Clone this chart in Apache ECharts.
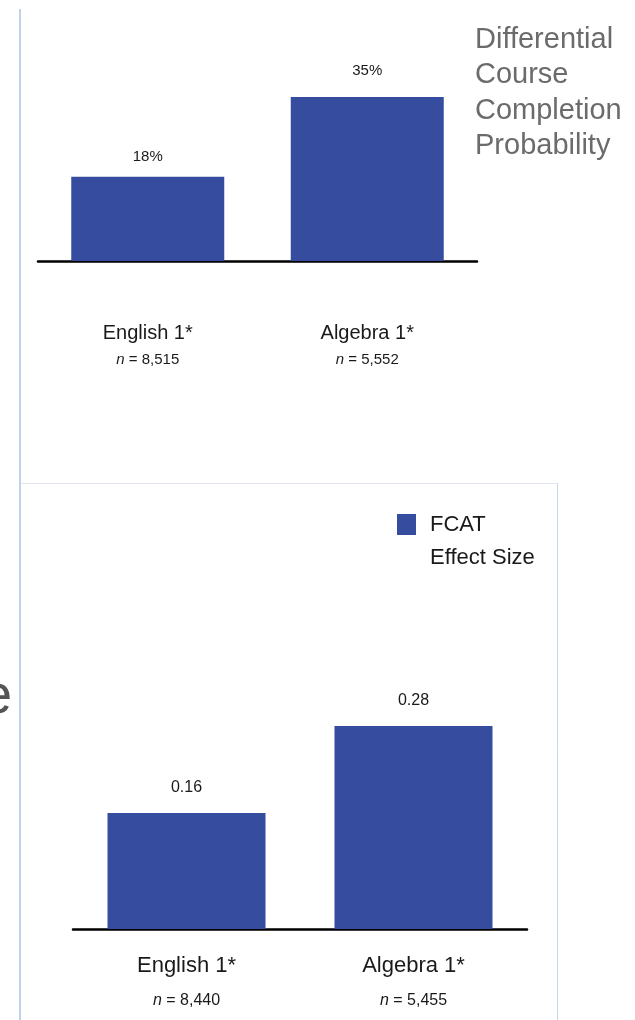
<!DOCTYPE html>
<html>
<head>
<meta charset="utf-8">
<script src="https://cdn.jsdelivr.net/npm/echarts@6/dist/echarts.min.js"></script>
<style>
  html, body { margin: 0; padding: 0; background: #fff; }
  #chart { width: 635px; height: 1020px; }
</style>
</head>
<body>
<div id="chart"></div>
<script>
const categories = ['English 1*', 'Algebra 1*']
const completionValues = [18, 35]
const completionN = ['8,515', '5,552']
const effectValues = [0.16, 0.28]
const effectN = ['8,440', '5,455']
const titleText = 'Differential\nCourse\nCompletion\nProbability'
const legendName = 'FCAT Effect Size'

const narrow = '"Liberation Sans Narrow", "Liberation Sans", Arial, sans-serif'
const barColor = '#364c9f'
// the two % labels sit at slightly different gaps in the original
const completionLabelGap = [12, 19]

const chart = echarts.init(document.getElementById('chart'))

const option = {
  animation: false,
  backgroundColor: '#fff',
  title: {
    text: titleText,
    left: 475,
    top: 22,
    padding: 0,
    textStyle: {
      fontFamily: '"Liberation Sans", Arial, sans-serif',
      fontSize: 29,
      fontWeight: 'normal',
      lineHeight: 35.5,
      color: '#6b6b6b'
    }
  },
  legend: {
    data: [legendName],
    left: 397,
    top: 475,
    padding: 0,
    itemWidth: 19,
    itemHeight: 21,
    icon: 'rect',
    // empty first line pushes the text down so the square lines up with "FCAT"
    formatter: () => '\nFCAT\nEffect Size',
    textStyle: {
      fontFamily: narrow,
      fontSize: 22,
      lineHeight: 33,
      color: '#1a1a1a',
      padding: [0, 0, 0, 9]
    }
  },
  graphic: [
    // left rule
    { type: 'line', shape: { x1: 20, y1: 9, x2: 20, y2: 1020 }, style: { stroke: '#a8c3e3', lineWidth: 1.5 } },
    // bottom panel frame
    { type: 'line', shape: { x1: 21, y1: 483.5, x2: 557, y2: 483.5 }, style: { stroke: '#e1e5ee', lineWidth: 1 } },
    { type: 'line', shape: { x1: 557.5, y1: 483, x2: 557.5, y2: 1020 }, style: { stroke: '#c9d7e8', lineWidth: 1 } },
    // cut-off word fragment at the left edge
    { type: 'text', left: -19, top: 670, style: { text: 'e', fontSize: 56, fill: '#555', fontFamily: '"Liberation Sans", Arial, sans-serif' } }
  ],
  grid: [
    { left: 38, right: 158, top: 73.6, bottom: 759 },
    { left: 73, right: 108, top: 711.5, bottom: 91 }
  ],
  xAxis: [
    {
      gridIndex: 0,
      type: 'category',
      data: categories,
      axisTick: { show: false },
      axisLine: { lineStyle: { color: '#000', width: 2.5 } },
      axisLabel: {
        margin: 59,
        formatter: (v, i) => '{a|' + v + '}\n{i|n}{b| = ' + completionN[i] + '}',
        rich: {
          a: { fontFamily: narrow, fontSize: 20, lineHeight: 26, color: '#1a1a1a' },
          i: { fontFamily: narrow, fontSize: 15, lineHeight: 28, fontStyle: 'italic', color: '#1a1a1a' },
          b: { fontFamily: narrow, fontSize: 15, lineHeight: 28, color: '#1a1a1a' }
        }
      }
    },
    {
      gridIndex: 1,
      type: 'category',
      data: categories,
      axisTick: { show: false },
      axisLine: { lineStyle: { color: '#000', width: 2.5 } },
      axisLabel: {
        margin: 22,
        formatter: (v, i) => '{a|' + v + '}\n{i|n}{b| = ' + effectN[i] + '}',
        rich: {
          a: { fontFamily: narrow, fontSize: 22, lineHeight: 30, color: '#1a1a1a' },
          i: { fontFamily: narrow, fontSize: 16, lineHeight: 40, fontStyle: 'italic', color: '#1a1a1a' },
          b: { fontFamily: narrow, fontSize: 16, lineHeight: 40, color: '#1a1a1a' }
        }
      }
    }
  ],
  yAxis: [
    { gridIndex: 0, type: 'value', min: 0, max: 40, show: false },
    { gridIndex: 1, type: 'value', min: 0, max: 0.3, show: false }
  ],
  series: [
    {
      name: 'Completion',
      type: 'bar',
      xAxisIndex: 0,
      yAxisIndex: 0,
      data: completionValues.map((v, i) => ({ value: v, label: { distance: completionLabelGap[i] } })),
      barWidth: 153,
      itemStyle: { color: barColor },
      label: {
        show: true,
        position: 'top',
        formatter: p => p.value + '%',
        fontFamily: narrow,
        fontSize: 15,
        color: '#1a1a1a'
      }
    },
    {
      name: legendName,
      type: 'bar',
      xAxisIndex: 1,
      yAxisIndex: 1,
      data: effectValues,
      barWidth: 158,
      itemStyle: { color: barColor },
      label: {
        show: true,
        position: 'top',
        distance: 17,
        formatter: p => p.value.toFixed(2),
        fontFamily: narrow,
        fontSize: 16,
        color: '#1a1a1a'
      }
    }
  ]
}

chart.setOption(option)
window.addEventListener('resize', function () {
  chart.resize()
})
</script>
</body>
</html>
